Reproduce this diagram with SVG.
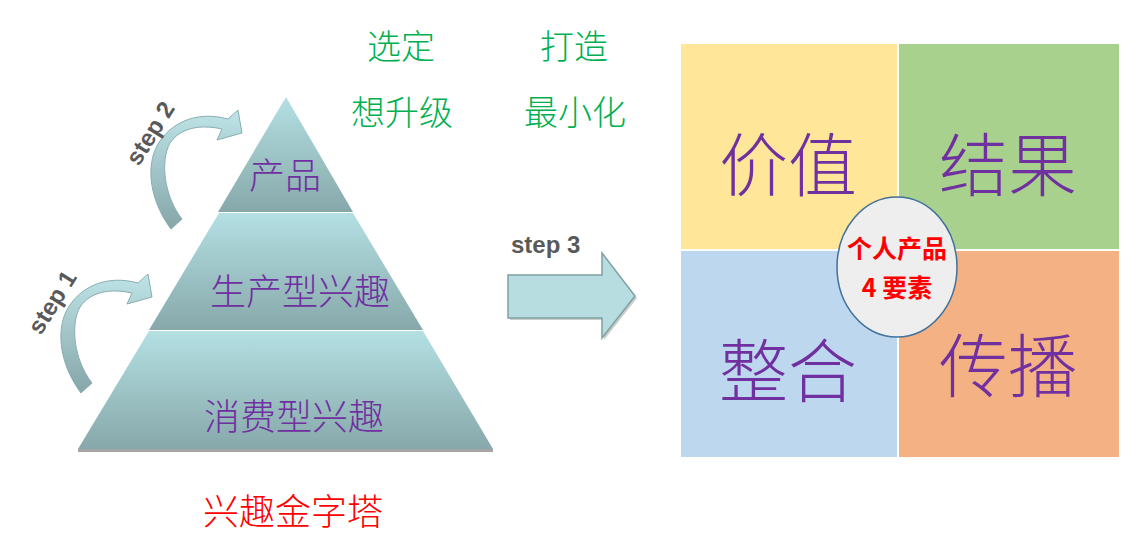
<svg xmlns="http://www.w3.org/2000/svg" width="1146" height="552" viewBox="0 0 1146 552">
<style>
.cjk{font-family:"Noto Sans CJK SC","Noto Sans",sans-serif;}
.light{font-weight:300;}
.purple{fill:#7030a0;}
.green{fill:#00b050;font-size:34px;}
.step{font-family:"Liberation Sans",Arial,sans-serif;font-size:24px;font-weight:bold;fill:#595959;}
.quad{font-size:69px;}
.tier{font-size:36px;}
.curve{fill:url(#arrowGrad);stroke:#8aaeb0;stroke-width:1;}
</style>
<defs>
<linearGradient id="tierGrad" x1="0" y1="0" x2="0" y2="1">
<stop offset="0" stop-color="#b4e0e3"/>
<stop offset="1" stop-color="#87a8aa"/>
</linearGradient>
<linearGradient id="arrowGrad" x1="0" y1="0" x2="0" y2="1">
<stop offset="0" stop-color="#bde4e7"/>
<stop offset="1" stop-color="#86a6a8"/>
</linearGradient>
</defs>
<rect width="1146" height="552" fill="#ffffff"/>

<g id="pyramid">
<rect x="78" y="449" width="415" height="3" fill="#a5a5a5"/>
<polygon points="286,97 353,212 218,212" fill="url(#tierGrad)"/>
<polygon points="219,213 353,213 423,330 149,330" fill="url(#tierGrad)"/>
<polygon points="149,331 423,331 493,449 78,449" fill="url(#tierGrad)"/>
<text class="cjk light purple tier" x="285" y="189" text-anchor="middle">产品</text>
<text class="cjk light purple tier" x="300" y="305" text-anchor="middle">生产型兴趣</text>
<text class="cjk light purple tier" x="294" y="430" text-anchor="middle">消费型兴趣</text>
</g>

<g id="pyramid-title">
<text class="cjk light" x="293" y="525" text-anchor="middle" font-size="36" fill="#ff0000">兴趣金字塔</text>
</g>

<g id="green-labels">
<text class="cjk light green" x="401" y="59" text-anchor="middle">选定</text>
<text class="cjk light green" x="574" y="59" text-anchor="middle">打造</text>
<text class="cjk light green" x="402" y="125" text-anchor="middle">想升级</text>
<text class="cjk light green" x="575" y="125" text-anchor="middle">最小化</text>
</g>

<g id="quadrants">
<g id="q-value">
<rect x="681" y="44" width="216" height="205" fill="#ffe699"/>
<text class="cjk light purple quad" x="788" y="191" text-anchor="middle">价值</text>
</g>
<g id="q-result">
<rect x="899" y="44" width="220" height="205" fill="#a9d18e"/>
<text class="cjk light purple quad" x="1008" y="191" text-anchor="middle">结果</text>
</g>
<g id="q-integrate">
<rect x="681" y="251" width="216" height="206" fill="#bdd7ee"/>
<text class="cjk light purple quad" x="788" y="397" text-anchor="middle">整合</text>
</g>
<g id="q-spread">
<rect x="899" y="251" width="220" height="206" fill="#f4b183"/>
<text class="cjk light purple quad" x="1008" y="392" text-anchor="middle">传播</text>
</g>
<g id="center">
<ellipse cx="897" cy="267" rx="60" ry="70" fill="#eeeeee" stroke="#41719c" stroke-width="1.5"/>
<text class="cjk" x="897" y="258" text-anchor="middle" font-size="25" font-weight="bold" fill="#ff0000">个人产品</text>
<text class="cjk" x="897" y="297" text-anchor="middle" font-size="25" font-weight="bold" fill="#ff0000">4 要素</text>
</g>
</g>

<g id="connectors">
<g id="step1">
<path class="curve" d="M81,393 C60,365 55,330 68,308 C80,288 105,274 138,283 L148,274 L152,297 L127,304 L132,293 C110,288 90,292 80,307 C70,325 74,360 92,383 Z"/>
<text class="step" x="52" y="302" text-anchor="middle" dominant-baseline="central" transform="rotate(-58 52 302)">step 1</text>
</g>
<g id="step2">
<path class="curve" transform="translate(90,-164)" d="M81,393 C60,365 55,330 68,308 C80,288 105,274 138,283 L148,274 L152,297 L127,304 L132,293 C110,288 90,292 80,307 C70,325 74,360 92,383 Z"/>
<text class="step" x="150" y="133" text-anchor="middle" dominant-baseline="central" transform="rotate(-58 150 133)">step 2</text>
</g>
<g id="step3">
<polygon points="510,277 604,277 604,255 637,298 604,340 604,320 510,320" fill="#9a9a9a" opacity="0.5"/>
<polygon points="508,275 602,275 602,253 635,296 602,338 602,318 508,318" fill="#b7dde1" stroke="#7fa1a3" stroke-width="1.5"/>
<text class="step" x="511" y="253">step 3</text>
</g>
</g>
</svg>
